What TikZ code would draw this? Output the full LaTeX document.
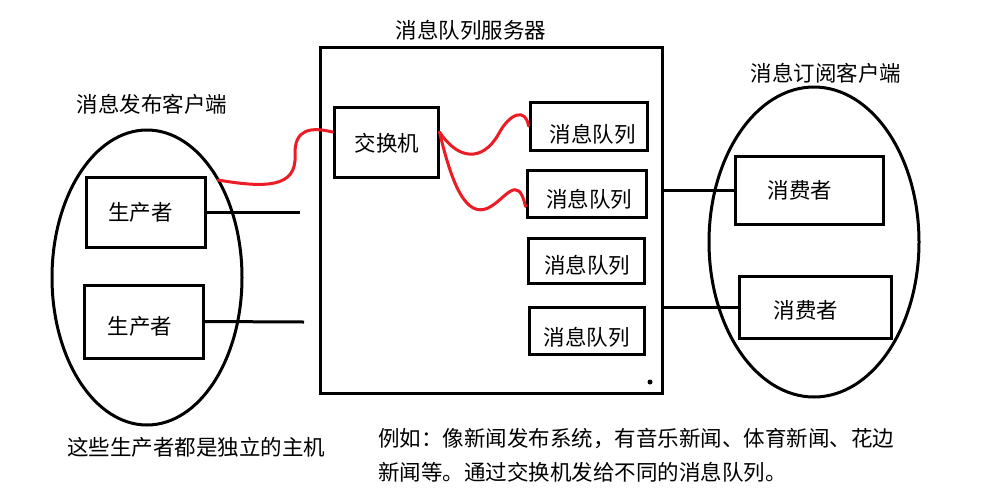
\documentclass[tikz,border=0pt]{standalone}
\usepackage{fontspec}
\setmainfont{Noto Sans CJK SC}
\usepackage{tikz}
\usetikzlibrary{
  calc,
  shapes.geometric
}
\definecolor{penred}{RGB}{235,28,36}
\newcommand{\nudge}[3]{\raisebox{#2}[\height][\depth]{\kern#1\relax#3\kern-#1\relax}}
\tikzset{
  box/.style={
    draw,
    line width=3pt,
    inner sep=0pt},
  client/.style={
    draw,
    ellipse,
    line width=3pt,
    inner sep=0pt},
  wire/.style={line width=3pt},
  redwire/.style={
    line width=3pt,
    draw=penred,
    line cap=round}
  }

\begin{document}
\begin{tikzpicture}[x=1pt, y=-1pt, font=\fontsize{21.5}{34}\selectfont]
    \useasboundingbox (0,0) rectangle (1007,491);
    \node[box, minimum width=342pt, minimum height=346pt] (srv) at (491,220) {};
    \node[client, minimum width=190pt, minimum height=295pt] (pub) at (147,277.5) {};
    \node[client, minimum width=210pt, minimum height=310pt] (sub) at (814,242) {};
    \node[box, minimum width=119pt, minimum height=70pt] (p1) at (145.5,212) {\nudge{-5pt}{0pt}{生产者}};
    \node[box, minimum width=119pt, minimum height=73pt] (p2) at (143.5,321.5) {\nudge{-3.5pt}{-4.5pt}{生产者}};
    \node[box, minimum width=104pt, minimum height=70pt] (ex) at (386,142) {\nudge{1pt}{-1.5pt}{交换机}};
    \node[box, minimum width=117pt, minimum height=48pt] (q1) at (588.5,126) {\nudge{4pt}{-8pt}{消息队列}};
    \node[box, minimum width=119pt, minimum height=47pt] (q2) at (586.5,193.5) {\nudge{2.5pt}{-5.5pt}{消息队列}};
    \node[box, minimum width=116pt, minimum height=45pt] (q3) at (586,260.5) {\nudge{1pt}{-5pt}{消息队列}};
    \node[box, minimum width=115pt, minimum height=47pt] (q4) at (586.5,330.5) {\nudge{0pt}{-6.5pt}{消息队列}};
    \node[box, minimum width=148pt, minimum height=68pt] (c1) at (809,190) {\nudge{-9pt}{0pt}{消费者}};
    \node[box, minimum width=152pt, minimum height=62pt] (c2) at (815,307) {\nudge{-9pt}{-3pt}{消费者}};
    \node[circle, fill, inner sep=0pt, minimum size=5pt] (dot) at (650,382) {};
    \node (srvlabel) at (471,30) {消息队列服务器};
    \node (publabel) at (152,104) {消息发布客户端};
    \node (sublabel) at (826,73) {消息订阅客户端};
    \node (hostnote) at (196,447) {这些生产者都是独立的主机};
    \node[anchor=base west, inner sep=0pt] (ex1) at (378,446) {例如：像新闻发布系统，有音乐新闻、体育新闻、花边};
    \node[anchor=base west, inner sep=0pt] (ex2) at (378,480) {新闻等。通过交换机发给不同的消息队列。};
    \coordinate (p1end) at (300,212);
    \coordinate (p2end) at (304,322);
    \coordinate (tail) at (218,180);
    \draw[wire] (p1.east) -- (p1end);
    \draw[wire] (p2.east) -- (p2end);
    \draw[wire] (c1.west) -- (c1.west -| srv.east);
    \draw[wire] (c2.west) -- (c2.west -| srv.east);
    \draw[redwire] (tail) .. controls (265,188) and (297,188) .. (295,155)
      .. controls (294,128) and (312,127) .. ($(ex.west)+(0,-10)$);
    \draw[redwire] ($(ex.east)+(0,-10)$) .. controls (458,160) and (482,162) .. (498,135)
      .. controls (510,112) and (526,108) .. (q1.west);
    \draw[redwire] ($(ex.east)+(0,-10)$) .. controls (452,185) and (466,218) .. (488,208)
      .. controls (505,200) and (518,172) .. ($(q2.west)+(0,13)$);
  \end{tikzpicture}
\end{document}
